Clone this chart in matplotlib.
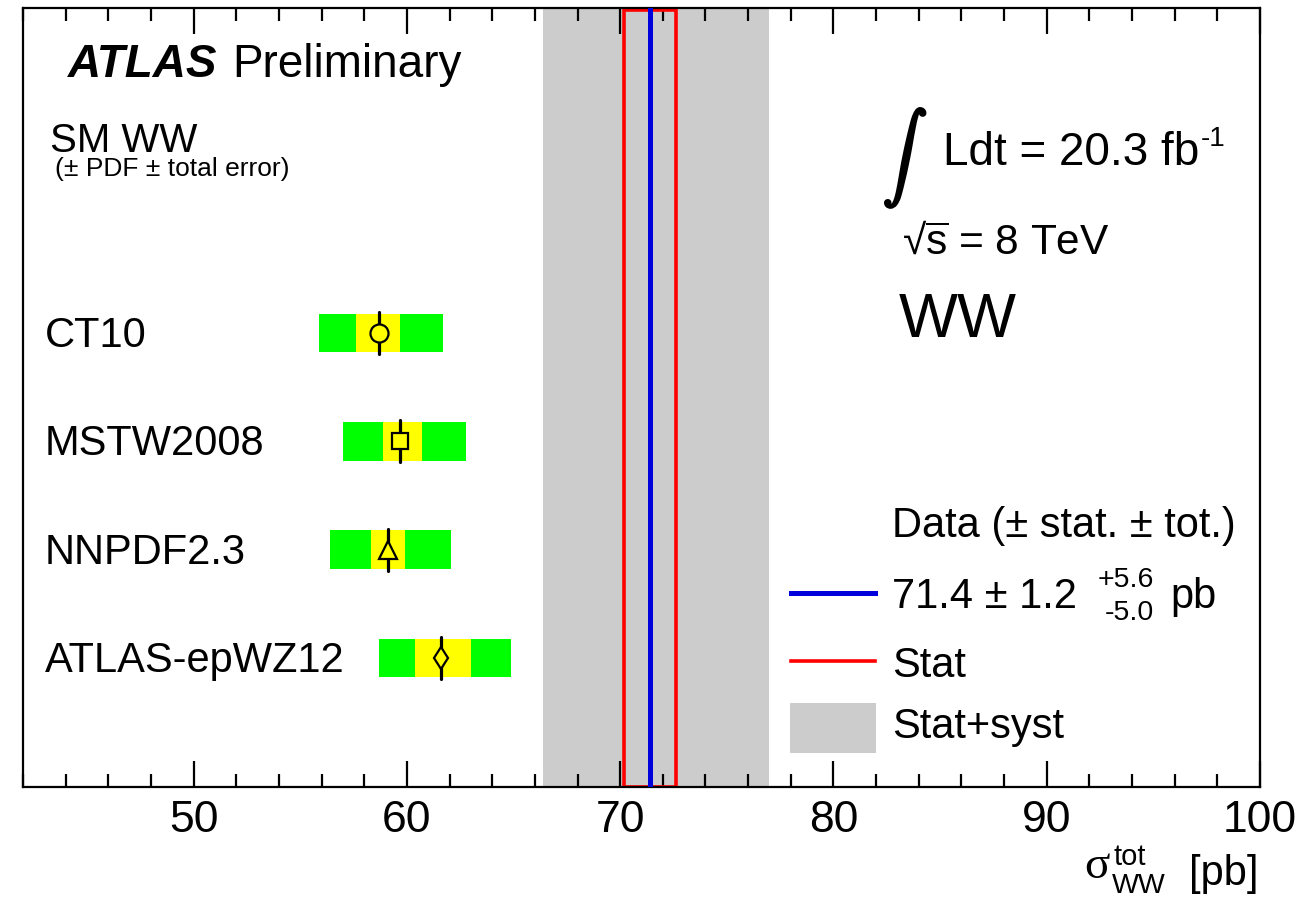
import matplotlib
matplotlib.use("Agg")
import matplotlib.pyplot as plt
import matplotlib.patheffects as pe
from matplotlib.patches import Rectangle
from matplotlib.lines import Line2D

# ---------------- data ----------------
pdf_names = ['CT10', 'MSTW2008', 'NNPDF2.3', 'ATLAS-epWZ12']
pdf_central = [58.7, 59.7, 59.1, 61.6]
pdf_err_lo = [57.6, 58.9, 58.3, 60.4]
pdf_err_hi = [59.7, 60.7, 59.9, 63.0]
tot_err_lo = [55.9, 57.0, 56.4, 58.7]
tot_err_hi = [61.7, 62.75, 62.05, 64.9]
pdf_markers = ['o', 's', '^', 'd']
row_pos = [4, 3, 2, 1]

data_value = 71.4
data_stat = 1.2
data_tot_up = 5.6
data_tot_dn = 5.0

x_ticks = [50, 60, 70, 80, 90, 100]

# ---------------- figure ----------------
W, H = 1310, 900
plt.rcParams['font.family'] = ['Liberation Sans', 'DejaVu Sans']
plt.rcParams['mathtext.fontset'] = 'custom'
plt.rcParams['mathtext.rm'] = 'Liberation Sans'
plt.rcParams['mathtext.it'] = 'Liberation Sans:italic'
plt.rcParams['mathtext.bf'] = 'Liberation Sans:bold'

fig = plt.figure(figsize=(W / 100, H / 100), dpi=100)
ax_l, ax_r, ax_t, ax_b = 23, 1260, 8, 787
ax = fig.add_axes([ax_l / W, 1 - ax_b / H, (ax_r - ax_l) / W, (ax_b - ax_t) / H])


def px(x, y):
    return x / W, 1 - y / H


ax.set_xlim(42, 100)
ax.set_ylim(-0.19, 7.0)

# data bands
ax.axvspan(data_value - data_tot_dn, data_value + data_tot_up, color='#cccccc', lw=0, zorder=1)
ax.add_patch(Rectangle((data_value - data_stat, -0.19), 2 * data_stat, 7.17,
                       facecolor='none', edgecolor='#ff0000', lw=2.6, zorder=2))
ax.axvline(data_value, color='#0000dd', lw=3.6, zorder=3)

# theory predictions
band_h = 0.357
marker_sizes = {'o': 13, 's': 12, '^': 13, 'd': 11.7}
for i in range(len(pdf_names)):
    y = row_pos[i]
    ax.add_patch(Rectangle((tot_err_lo[i], y - band_h / 2), tot_err_hi[i] - tot_err_lo[i], band_h,
                           facecolor='#00ff00', edgecolor='none', zorder=2))
    ax.add_patch(Rectangle((pdf_err_lo[i], y - band_h / 2), pdf_err_hi[i] - pdf_err_lo[i], band_h,
                           facecolor='#ffff00', edgecolor='none', zorder=3))
    ax.plot([pdf_central[i], pdf_central[i]], [y - 0.194, y + 0.194], color='black', lw=2.3,
            solid_capstyle='round', zorder=4)
    ax.plot(pdf_central[i], y, marker=pdf_markers[i], ms=marker_sizes[pdf_markers[i]],
            mfc='#ffff00', mec='black', mew=1.6, zorder=5, ls='none')
    ax.text(43.03, y - 0.13, pdf_names[i], fontsize=30, va='baseline', ha='left')

# axes style
for s in ax.spines.values():
    s.set_linewidth(1.6)
ax.set_xticks(x_ticks)
ax.set_xticks([x for x in range(42, 101, 2) if x not in x_ticks], minor=True)
ax.set_yticks([])
ax.tick_params(axis='x', which='both', direction='in', top=True, bottom=True, width=1.6)
ax.tick_params(axis='x', which='major', length=19, labelsize=32, pad=9)
ax.tick_params(axis='x', which='minor', length=9.5)

# x label
fig.text(*px(1258, 885), '[pb]', fontsize=30, ha='right', va='baseline')
fig.text(*px(1084, 878), '\u03c3', fontsize=34, family='Liberation Serif', ha='left', va='baseline')
fig.text(*px(1113, 865), 'tot', fontsize=21, ha='left', va='baseline')
fig.text(*px(1112, 893), 'WW', fontsize=20.5, ha='left', va='baseline')

# ATLAS label
fig.text(*px(68, 77), 'ATLAS', fontsize=33, weight='bold', style='italic', ha='left', va='baseline')
fig.text(*px(232, 77), 'Preliminary', fontsize=33, ha='left', va='baseline')
fig.text(*px(50, 151.7), 'SM WW', fontsize=29, ha='left', va='baseline')
fig.text(*px(55, 176), '(\u00b1 PDF \u00b1 total error)', fontsize=19, ha='left', va='baseline')

# lumi etc
fig.text(*px(883, 173), r'$\int$', fontsize=32, math_fontfamily='cm', ha='left', va='baseline',
         path_effects=[pe.withStroke(linewidth=2.2, foreground='black')])
fig.text(*px(943, 165), 'Ldt = 20.3 fb', fontsize=33, ha='left', va='baseline')
fig.text(*px(1201, 146), '-1', fontsize=20, ha='left', va='baseline')
fig.text(*px(902, 254), '\u221a' + r'$\overline{\mathrm{s}}$ = 8 TeV',
         fontsize=30.5, ha='left', va='baseline')
fig.text(*px(899, 336.7), 'WW', fontsize=45, ha='left', va='baseline')

# legend (manual)
fig.text(*px(891.7, 536.7), 'Data (\u00b1 stat. \u00b1 tot.)', fontsize=30, ha='left', va='baseline')
fig.add_artist(Line2D([790.7 / W, 875 / W], [1 - 593.3 / H] * 2, color='#0000dd', lw=3.6))
fig.text(*px(891.7, 608), f'{data_value} \u00b1 {data_stat}', fontsize=30, ha='left', va='baseline')
fig.text(*px(1098, 587), f'+{data_tot_up}', fontsize=20.5, ha='left', va='baseline')
fig.text(*px(1105, 620), f'-{data_tot_dn}', fontsize=20.5, ha='left', va='baseline')
fig.text(*px(1170, 608), 'pb', fontsize=30, ha='left', va='baseline')
fig.add_artist(Line2D([790.7 / W, 875 / W], [1 - 660.7 / H] * 2, color='#ff0000', lw=2.6))
fig.text(*px(891.7, 676.7), 'Stat', fontsize=30, ha='left', va='baseline')
fig.add_artist(Rectangle(px(790, 753), 86 / W, 50 / H, facecolor='#cccccc', edgecolor='none'))
fig.text(*px(891.7, 738), 'Stat+syst', fontsize=30, ha='left', va='baseline')

fig.savefig('out.png', dpi=100)
